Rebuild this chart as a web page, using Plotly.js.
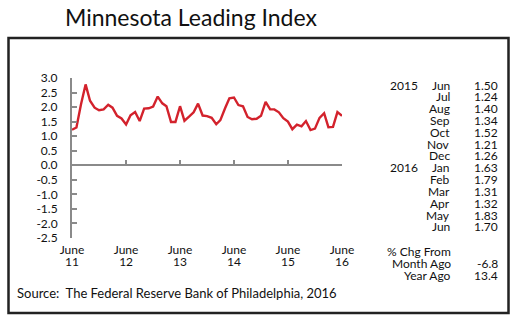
<!DOCTYPE html>
<html>
<head>
<meta charset="utf-8">
<script src="https://cdn.plot.ly/plotly-3.0.1.min.js"></script>
<style>
  html, body { margin: 0; padding: 0; background: #fff; }
  #chart { width: 517px; height: 323px; }
</style>
</head>
<body>
<div id="chart"></div>
<script>
// ---- data ----
const months = [
  '2011-06','2011-07','2011-08','2011-09','2011-10','2011-11','2011-12',
  '2012-01','2012-02','2012-03','2012-04','2012-05','2012-06','2012-07','2012-08','2012-09','2012-10','2012-11','2012-12',
  '2013-01','2013-02','2013-03','2013-04','2013-05','2013-06','2013-07','2013-08','2013-09','2013-10','2013-11','2013-12',
  '2014-01','2014-02','2014-03','2014-04','2014-05','2014-06','2014-07','2014-08','2014-09','2014-10','2014-11','2014-12',
  '2015-01','2015-02','2015-03','2015-04','2015-05','2015-06','2015-07','2015-08','2015-09','2015-10','2015-11','2015-12',
  '2016-01','2016-02','2016-03','2016-04','2016-05','2016-06'
];
const leadingIndex = [
  1.22, 1.30, 2.10, 2.78, 2.22, 1.98, 1.89,
  1.92, 2.08, 1.98, 1.70, 1.61, 1.40, 1.72, 1.83, 1.52, 1.95, 1.96, 2.02,
  2.36, 2.13, 2.03, 1.49, 1.49, 2.03, 1.53, 1.67, 1.82, 2.12, 1.71, 1.69,
  1.63, 1.41, 1.55, 1.95, 2.30, 2.33, 2.07, 2.03, 1.66, 1.58, 1.60, 1.70,
  2.18, 1.92, 1.92, 1.82, 1.62, 1.50, 1.24, 1.40, 1.34, 1.52, 1.21, 1.26,
  1.63, 1.79, 1.31, 1.32, 1.83, 1.70
];
const xTickVals = ['2011-06','2012-06','2013-06','2014-06','2015-06','2016-06'];
const xTickMonth = ['June','June','June','June','June','June'];
const xTickYear = ['11','12','13','14','15','16'];
const yTickVals = [3.0, 2.5, 2.0, 1.5, 1.0, 0.5, 0.0, -0.5, -1.0, -1.5, -2.0, -2.5];
const yTickText = ['3.0','2.5','2.0','1.5','1.0','0.5','0.0','-0.5','-1.0','-1.5','-2.0','-2.5'];
const yMin = -2.5, yMax = 3.0;

const tableYears  = ['2015','','','','','','','2016','','','','',''];
const tableMonths = ['Jun','Jul','Aug','Sep','Oct','Nov','Dec','Jan','Feb','Mar','Apr','May','Jun'];
const tableValues = ['1.50','1.24','1.40','1.34','1.52','1.21','1.26','1.63','1.79','1.31','1.32','1.83','1.70'];
const chgLabels = ['% Chg From','Month Ago','Year Ago'];
const chgValues = ['','-6.8','13.4'];

const titleText = 'Minnesota Leading Index';
const sourceText = 'Source:  The Federal Reserve Bank of Philadelphia, 2016';

// ---- layout geometry ----
const W = 517, H = 323;
const M = { l: 72, r: 175, t: 78, b: 85 };
const PW = W - M.l - M.r, PH = H - M.t - M.b;
const px = x => (x - M.l) / PW;
const py = y => (M.t + PH - y) / PH;

const FONT = 'Lato, "Open Sans", sans-serif';
const AXC = '#8a8a8a';

const annotations = [];
function txt(text, x, y, anchor, size) {
  annotations.push({
    text: text, xref: 'paper', yref: 'paper', x: px(x), y: py(y),
    xanchor: anchor, yanchor: 'middle', showarrow: false, borderpad: 0,
    font: { family: FONT, size: size || 12, color: '#111' }
  });
}
const rowStep = 11.83;
tableMonths.forEach((m, i) => {
  const y = 85 + i * rowStep;
  if (tableYears[i]) txt(tableYears[i], 389, y, 'left');
  txt(m, 451, y, 'right');
  txt(tableValues[i], 499, y, 'right');
});
chgLabels.forEach((l, i) => {
  const y = 251 + i * 12.3;
  txt(l, 452, y, 'right');
  if (chgValues[i]) txt(chgValues[i], 499, y, 'right');
});
txt(sourceText, 16, 293, 'left', 13);

const trace = {
  x: months, y: leadingIndex, type: 'scatter', mode: 'lines',
  line: { color: '#d3222c', width: 2.4 }, hoverinfo: 'skip'
};
const zeroTrace = { x: months, y: leadingIndex, xaxis: 'x2', type: 'scatter', mode: 'lines',
  line: { width: 0 }, opacity: 0, hoverinfo: 'skip', showlegend: false };
const yearTrace = { x: months, y: leadingIndex, xaxis: 'x3', type: 'scatter', mode: 'lines',
  line: { width: 0 }, opacity: 0, hoverinfo: 'skip', showlegend: false };

const layout = {
  width: W, height: H,
  margin: M,
  paper_bgcolor: '#fff', plot_bgcolor: '#fff',
  showlegend: false,
  title: {
    text: titleText, x: 65 / W, xanchor: 'left', xref: 'container',
    y: 1 - 17.5 / H, yanchor: 'middle', yref: 'container',
    font: { family: FONT, size: 23, color: '#111' }
  },
  xaxis: {
    type: 'date', range: [months[0], months[months.length - 1]],
    tickmode: 'array', tickvals: xTickVals, ticktext: xTickMonth,
    showgrid: false, zeroline: false, showline: false, ticks: '',
    ticklabelstandoff: 3,
    tickfont: { family: FONT, size: 12, color: '#111' }
  },
  xaxis2: {
    type: 'date', matches: 'x', overlaying: 'x', anchor: 'free',
    position: (0 - yMin) / (yMax - yMin),
    tickmode: 'array', tickvals: xTickVals, showticklabels: false,
    showgrid: false, zeroline: false, showline: true, linecolor: AXC, linewidth: 2,
    ticks: 'inside', ticklen: 4, tickwidth: 2, tickcolor: AXC
  },
  xaxis3: {
    type: 'date', matches: 'x', overlaying: 'x', anchor: 'y', side: 'bottom',
    tickmode: 'array', tickvals: xTickVals, ticktext: xTickYear,
    showgrid: false, zeroline: false, showline: false, ticks: '',
    ticklabelstandoff: 15,
    tickfont: { family: FONT, size: 12, color: '#111' }
  },
  yaxis: {
    range: [yMin, yMax], tickmode: 'array', tickvals: yTickVals, ticktext: yTickText,
    showgrid: false, zeroline: false, showline: true, linecolor: AXC, linewidth: 2,
    ticks: 'inside', ticklen: 5, tickwidth: 2, tickcolor: AXC,
    ticklabelstandoff: 10,
    tickfont: { family: FONT, size: 12, color: '#111' }
  },
  shapes: [{
    type: 'rect', xref: 'paper', yref: 'paper',
    x0: px(8.5), x1: px(508.5), y0: py(313), y1: py(38),
    line: { color: '#222', width: 2.5 }, fillcolor: 'rgba(0,0,0,0)', layer: 'below'
  }],
  annotations: annotations
};

Plotly.newPlot('chart', [zeroTrace, yearTrace, trace], layout, { staticPlot: true, displayModeBar: false });
</script>
</body>
</html>
